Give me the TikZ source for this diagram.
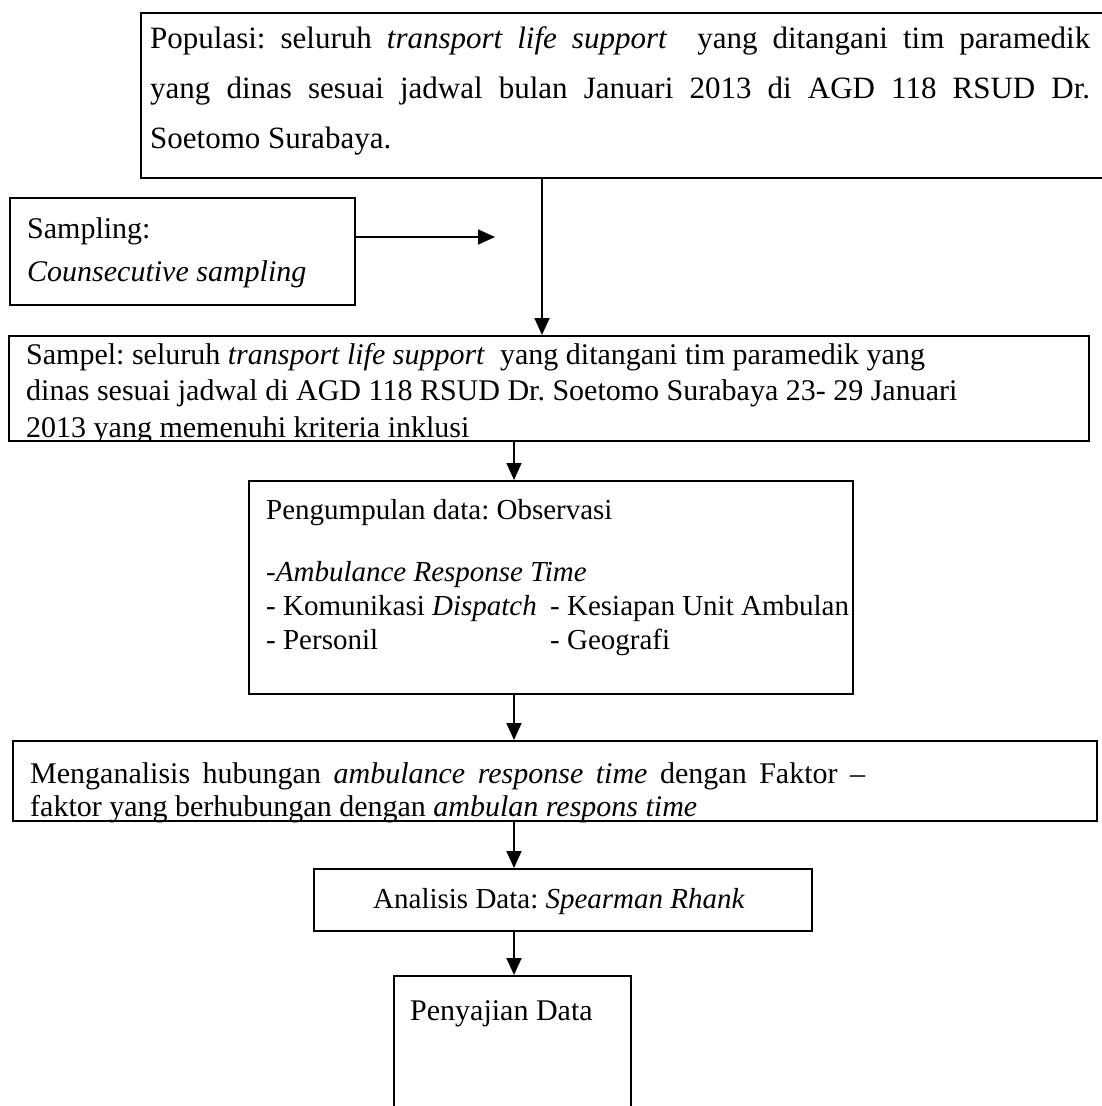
\documentclass[tikz,border=0pt]{standalone}
\usepackage{fontspec}
\setmainfont{Liberation Serif}
\usetikzlibrary{arrows.meta}
\frenchspacing
\begin{document}
\begin{tikzpicture}[x=1pt,y=-1pt,
  box/.style={draw, line width=1.7pt, inner sep=0pt, anchor=north west},
  txt/.style={inner sep=0pt, anchor=base west, font=\fontsize{30}{36}\selectfont},
  btxt/.style={txt, font=\fontsize{31}{37}\selectfont},
  stxt/.style={txt, font=\fontsize{29}{34}\selectfont},
  arr/.style={line width=1.7pt, -{Triangle[length=17pt,width=15pt]}}]
\useasboundingbox (0,0) rectangle (1101,1106);
% boxes
\node[box, minimum width=963pt, minimum height=165pt] (pop) at (140,12) {};
\node[box, minimum width=345pt, minimum height=107pt] (samp) at (9,197) {};
\node[box, minimum width=1080pt, minimum height=105pt] (sampel) at (8,335) {};
\node[box, minimum width=604pt, minimum height=213pt] (kumpul) at (248,480) {};
\node[box, minimum width=1084pt, minimum height=80pt] (analisis) at (12,740) {};
\node[box, minimum width=498pt, minimum height=62pt] (spear) at (313,868) {};
\node[box, minimum width=237pt, minimum height=140pt] (saji) at (393,975) {};
% texts
\node[btxt] (pop1) at (150,48) {\makebox[940pt][s]{Populasi: seluruh \textit{transport life support}\ \ yang ditangani tim paramedik}};
\node[btxt] (pop2) at (150,98) {\makebox[940pt][s]{yang dinas sesuai jadwal bulan Januari 2013 di AGD 118 RSUD Dr.}};
\node[btxt] (pop3) at (150,148) {Soetomo Surabaya.};
\node[txt] (samp1) at (27,238) {Sampling:};
\node[txt] (samp2) at (27,281) {\textit{Counsecutive sampling}};
\begin{scope}
\clip (sampel.north west) rectangle (sampel.south east);
\node[txt] (sampel1) at (26,364) {Sampel: seluruh \textit{transport life support}\ \ yang ditangani tim paramedik yang};
\node[txt] (sampel2) at (26,400) {dinas sesuai jadwal di AGD 118 RSUD Dr. Soetomo Surabaya 23- 29 Januari};
\node[txt] (sampel3) at (26,437) {2013 yang memenuhi kriteria inklusi};
\end{scope}
\node[stxt] (k1) at (266,519) {Pengumpulan data: Observasi};
\node[stxt] (k2) at (266,581) {-\textit{Ambulance Response Time}};
\node[stxt] (k3) at (266,615) {- Komunikasi \textit{Dispatch}};
\node[stxt] (k4) at (550,615) {- Kesiapan Unit Ambulan};
\node[stxt] (k5) at (266,649) {- Personil};
\node[stxt] (k6) at (550,649) {- Geografi};
\node[txt] (a1) at (30,783) {\makebox[835pt][s]{Menganalisis hubungan \textit{ambulance response time} dengan Faktor --}};
\node[txt] (a2) at (30,816) {faktor yang berhubungan dengan \textit{ambulan respons time}};
\node[stxt] (s1) at (373,908) {Analisis Data: \textit{Spearman Rhank}};
\node[txt] (p1) at (410,1020) {Penyajian Data};
% connectors
\coordinate (cx1) at (542,0);
\coordinate (cx2) at (514,0);
\coordinate (tip) at (495,237);
\draw[arr] (samp.east |- tip) -- (tip);
\draw[arr] (pop.south -| cx1) -- (sampel.north -| cx1);
\draw[arr] (sampel.south -| cx2) -- (kumpul.north -| cx2);
\draw[arr] (kumpul.south -| cx2) -- (analisis.north -| cx2);
\draw[arr] (analisis.south -| cx2) -- (spear.north -| cx2);
\draw[arr] (spear.south -| cx2) -- (saji.north -| cx2);
\end{tikzpicture}
\end{document}
